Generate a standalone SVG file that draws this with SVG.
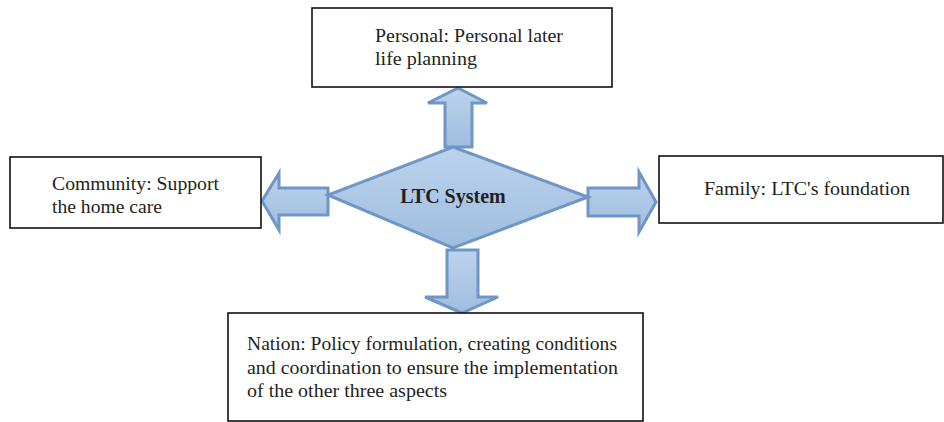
<svg xmlns="http://www.w3.org/2000/svg" width="944" height="422" viewBox="0 0 944 422">
<defs>
<linearGradient id="blueFill" x1="0" y1="0" x2="0" y2="1">
<stop offset="0" stop-color="#bcd3ec"/>
<stop offset="1" stop-color="#9fbde0"/>
</linearGradient>
<style>
.box{fill:#ffffff;stroke:#111111;stroke-width:1.6}
.shape{fill:url(#blueFill);stroke:#6f96c4;stroke-width:3;stroke-linejoin:miter}
.t{font-family:"Liberation Serif","Times New Roman",serif;font-size:19px;fill:#231f20}
.tb{font-family:"Liberation Serif","Times New Roman",serif;font-size:20px;font-weight:bold;fill:#231f20}
</style>
</defs>
<rect width="944" height="422" fill="#ffffff"/>
<g id="connectors">
<path class="shape" d="M445,147 L445,103 L428,103 L458,88 L487,103 L472,103 L472,147 Z"/>
<path class="shape" d="M328,188 L279,188 L279,173 L262,201 L279,230 L279,215 L328,215 Z"/>
<path class="shape" d="M588,188 L639,188 L639,172 L656,202 L639,232 L639,216 L588,216 Z"/>
<path class="shape" d="M447,250 L478,250 L478,297 L498,297 L462,313 L425,297 L447,297 Z"/>
</g>
<g id="ltc-system">
<path class="shape" d="M453,147 L588,197 L453,248 L328,195 Z"/>
<text class="tb" x="453" y="203" text-anchor="middle">LTC System</text>
</g>
<g id="personal">
<rect class="box" x="312" y="8" width="300" height="79"/>
<text class="t" x="375" y="42" textLength="188" lengthAdjust="spacingAndGlyphs">Personal: Personal later</text>
<text class="t" x="375" y="65" textLength="102" lengthAdjust="spacingAndGlyphs">life planning</text>
</g>
<g id="community">
<rect class="box" x="10" y="157" width="251" height="71"/>
<text class="t" x="52" y="190" textLength="167" lengthAdjust="spacingAndGlyphs">Community: Support</text>
<text class="t" x="52" y="213" textLength="110" lengthAdjust="spacingAndGlyphs">the home care</text>
</g>
<g id="family">
<rect class="box" x="659" y="156" width="284" height="67"/>
<text class="t" x="704" y="195" textLength="206" lengthAdjust="spacingAndGlyphs">Family: LTC's foundation</text>
</g>
<g id="nation">
<rect class="box" x="228" y="313" width="415" height="108"/>
<text class="t" x="247" y="350" textLength="370" lengthAdjust="spacingAndGlyphs">Nation: Policy formulation, creating conditions</text>
<text class="t" x="247" y="374" textLength="371" lengthAdjust="spacingAndGlyphs">and coordination to ensure the implementation</text>
<text class="t" x="247" y="397" textLength="200" lengthAdjust="spacingAndGlyphs">of the other three aspects</text>
</g>
</svg>
